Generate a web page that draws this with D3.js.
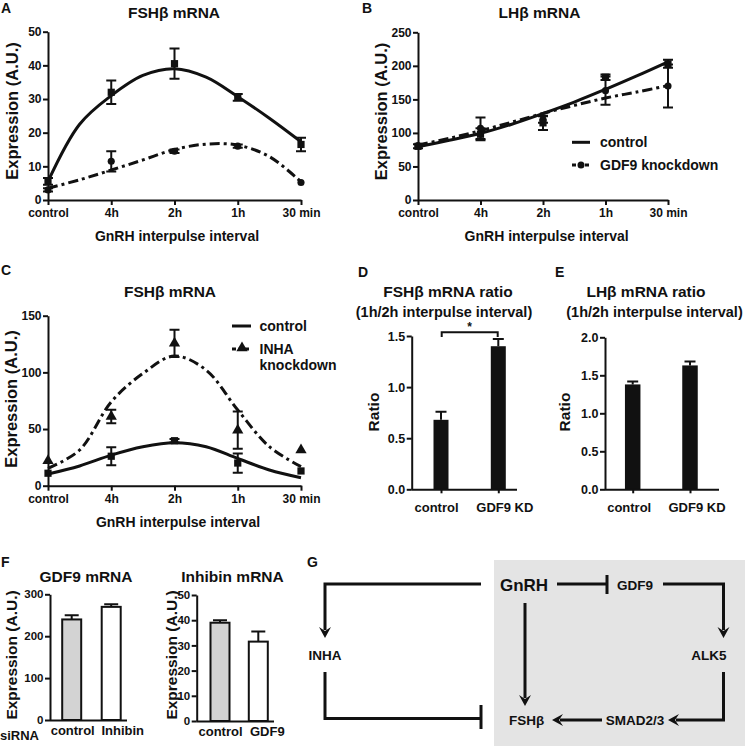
<!DOCTYPE html>
<html><head><meta charset="utf-8">
<script src="https://cdn.jsdelivr.net/npm/d3@7"></script>
<style>
body{margin:0;background:#fff}
svg{display:block}
text{font-family:"Liberation Sans",Arial,sans-serif;font-weight:bold;fill:#111}
</style></head><body>
<svg id="c" width="745" height="746"></svg>
<script>
// ---------- data ----------
const intervals = ["control","4h","2h","1h","30 min"];
const fitSteps = [0,0.5,1,1.5,2,2.5,3,3.5,4];
// Panel A  FSHb mRNA (control vs GDF9 knockdown)
const aCtrlMean = [5.5,32,40.5,30.5,16.5];
const aCtrlErr  = [1,3.5,4.5,1,2];
const aKdMean   = [3,11.5,14.5,16,5.2];
const aKdErr    = [0.5,3,0.5,0.5,0.4];
const aCtrlFit  = [5.5,22.5,31,37,39,36.5,30.7,24.3,17.3];
const aKdFit    = [3.5,6,8.9,11.9,15,16.6,16.3,12.9,5.4];
const aTicks = [0,10,20,30,40,50];
// Panel B  LHb mRNA
const bCtrlMean = [80,98,115,183,203];
const bCtrlErr  = [3,9,10.5,4,6];
const bKdMean   = [81,107,120,163,170];
const bKdErr    = [2,16,5,21,32];
const bCtrlFit  = [79.5,89,99.4,113,129,146,165,185,206];
const bKdFit    = [82,92,103.4,116,129,141,152,161,170.5];
const bTicks = [0,50,100,150,200,250];
// Panel C  FSHb mRNA (control vs INHA knockdown)
const cCtrlMean = [11,26,39.7,20,13];
const cCtrlErr  = [1,8,1.5,8.5,1];
const cInhaMean = [22,61,125.6,49,31.5];
const cInhaErr  = [1,6,12,16.5,1];
const cCtrlFit  = [10.3,17.4,27,34.4,38,34.4,24,13.8,7];
const cInhaFit  = [15.3,31.5,74,99,114.4,102,66.8,34.4,16.8];
const cTicks = [0,50,100,150];
// Panels D, E ratios
const kdGroups = ["control","GDF9 KD"];
const dRatio = [0.68,1.40];
const dErr   = [0.08,0.07];
const dTicks = [0,0.5,1.0,1.5];
const eRatio = [1.38,1.63];
const eErr   = [0.04,0.05];
const eTicks = [0,0.5,1.0,1.5,2.0];
// Panel F
const fGdf9Groups = ["control","Inhibin"];
const fGdf9    = [240,270];
const fGdf9Err = [10,6];
const fGdf9Ticks = [0,100,200,300];
const fInhGroups = ["control","GDF9"];
const fInh    = [39,31.5];
const fInhErr = [1,4];
const fInhTicks = [0,10,20,30,40,50];

// ---------- drawing ----------
const svg = d3.select("#c");
svg.append("rect").attr("width",745).attr("height",746).attr("fill","#fff");
const INK = "#111";

function txt(g,x,y,s,size,anchor){
  return g.append("text").attr("x",x).attr("y",y).attr("font-size",size)
    .attr("text-anchor",anchor||"middle").text(s);
}
function yTitle(g,x,cy,s,size){
  g.append("text").attr("transform",`translate(${x},${cy}) rotate(-90)`)
    .attr("text-anchor","middle").attr("font-size",size).text(s);
}
function styleAxis(a,fs){
  a.selectAll("path,line").attr("stroke",INK).attr("stroke-width",2);
  a.selectAll("text").attr("font-size",fs).attr("font-family",'"Liberation Sans",Arial,sans-serif')
    .attr("font-weight","bold").attr("fill",INK);
}

function lineChart(o){
  const g = svg.append("g");
  const x  = d3.scalePoint().domain(intervals).range([o.x0,o.x1]);
  const xl = d3.scaleLinear().domain([0,4]).range([o.x0,o.x1]);
  const y  = d3.scaleLinear().domain([0,o.ticks[o.ticks.length-1]]).range([o.y0,o.y1]);
  const ya = g.append("g").attr("transform",`translate(${o.x0},0)`)
    .call(d3.axisLeft(y).tickValues(o.ticks).tickSize(5).tickSizeOuter(0).tickPadding(1.5).tickFormat(d3.format("d")));
  styleAxis(ya,12);
  const xa = g.append("g").attr("transform",`translate(0,${o.y0})`)
    .call(d3.axisBottom(x).tickSize(5).tickSizeOuter(0).tickPadding(3.5));
  styleAxis(xa,12);
  o.series.forEach(s=>{
    g.append("path").datum(s.fit)
      .attr("d",d3.line().x((d,i)=>xl(fitSteps[i])).y(d=>y(d)).curve(d3.curveCatmullRom))
      .attr("fill","none").attr("stroke",INK).attr("stroke-width",3)
      .attr("stroke-dasharray",s.dash||null);
    s.mean.forEach((m,i)=>{
      const cx = x(intervals[i]);
      const e = s.err[i];
      if(y(m-e)-y(m+e) > 3){
        g.append("path").attr("d",`M${cx},${y(m-e)}V${y(m+e)}M${cx-5},${y(m-e)}H${cx+5}M${cx-5},${y(m+e)}H${cx+5}`)
          .attr("stroke",INK).attr("stroke-width",2).attr("fill","none");
      }
      g.append("path").attr("d",d3.symbol(s.shape,s.size)())
        .attr("transform",`translate(${cx},${y(m)})`).attr("fill",INK);
    });
  });
  txt(g,o.titleX,o.titleY,o.title,15.5);
  txt(g,o.xtX,o.xtY,"GnRH interpulse interval",14);
  yTitle(g,o.ytX,o.ytY,"Expression (A.U.)",16.5);
  return {g,x,y};
}

// Panel A
lineChart({x0:48,x1:301,y0:200,y1:31.7,ticks:aTicks,
  title:"FSHβ mRNA",titleX:174,titleY:18.3,xtX:177,xtY:241,ytX:17.5,ytY:111,
  series:[
    {fit:aCtrlFit,mean:aCtrlMean,err:aCtrlErr,shape:d3.symbolSquare,size:52},
    {fit:aKdFit,mean:aKdMean,err:aKdErr,shape:d3.symbolCircle,size:40,dash:"10,4,3,4"}
  ]});

// Panel B
const B = lineChart({x0:418,x1:668,y0:200,y1:32.3,ticks:bTicks,
  title:"LHβ mRNA",titleX:539.5,titleY:18.3,xtX:546.7,xtY:241,ytX:387,ytY:111.5,
  series:[
    {fit:bCtrlFit,mean:bCtrlMean,err:bCtrlErr,shape:d3.symbolSquare,size:52},
    {fit:bKdFit,mean:bKdMean,err:bKdErr,shape:d3.symbolCircle,size:40,dash:"10,4,3,4"}
  ]});
// legend B
B.g.append("line").attr("x1",572).attr("x2",590).attr("y1",142.3).attr("y2",142.3).attr("stroke",INK).attr("stroke-width",3);
txt(B.g,600,147,"control",14,"start");
B.g.append("line").attr("x1",572).attr("x2",590).attr("y1",165).attr("y2",165).attr("stroke",INK).attr("stroke-width",3).attr("stroke-dasharray","4,2.5");
B.g.append("circle").attr("cx",581).attr("cy",165).attr("r",3.5).attr("fill",INK);
txt(B.g,600,170,"GDF9 knockdown",14,"start");

// Panel C
const C = lineChart({x0:48,x1:301,y0:485.7,y1:315.7,ticks:cTicks,
  title:"FSHβ mRNA",titleX:170,titleY:296.7,xtX:178,xtY:526.7,ytX:17,ytY:399,
  series:[
    {fit:cCtrlFit,mean:cCtrlMean,err:cCtrlErr,shape:d3.symbolSquare,size:52},
    {fit:cInhaFit,mean:cInhaMean,err:cInhaErr,shape:d3.symbolTriangle,size:55,dash:"10,4,3,4"}
  ]});
C.g.append("line").attr("x1",232).attr("x2",251).attr("y1",326).attr("y2",326).attr("stroke",INK).attr("stroke-width",3);
txt(C.g,259.5,331,"control",14,"start");
C.g.append("line").attr("x1",232).attr("x2",251).attr("y1",349).attr("y2",349).attr("stroke",INK).attr("stroke-width",3).attr("stroke-dasharray","4,2.5");
C.g.append("path").attr("d",d3.symbol(d3.symbolTriangle,55)()).attr("transform","translate(242,348)").attr("fill",INK);
txt(C.g,259.5,354,"INHA",14,"start");
txt(C.g,259.5,369.5,"knockdown",14,"start");

// bar charts
function barChart(o){
  const g = svg.append("g");
  const y = d3.scaleLinear().domain([0,o.ticks[o.ticks.length-1]]).range([o.y0,o.y1]);
  const x = d3.scalePoint().domain(o.groups).range(o.centers);
  o.values.forEach((v,i)=>{
    const cx = x(o.groups[i]);
    const top = y(v+o.err[i]);
    g.append("path").attr("d",`M${cx},${y(v)}V${top}M${cx-o.cap/2},${top}H${cx+o.cap/2}`)
      .attr("stroke",INK).attr("stroke-width",2).attr("fill","none");
    g.append("rect").attr("x",cx-o.bw/2).attr("y",y(v)).attr("width",o.bw).attr("height",o.y0-y(v))
      .attr("fill",o.fills[i]).attr("stroke",INK).attr("stroke-width",o.outline||0);
  });
  const ya = g.append("g").attr("transform",`translate(${o.x0},0)`)
    .call(d3.axisLeft(y).tickValues(o.ticks).tickSize(5).tickSizeOuter(0).tickPadding(1.5).tickFormat(d3.format(o.fmt)));
  styleAxis(ya,o.tfs);
  const xa = g.append("g").attr("transform",`translate(0,${o.y0})`)
    .call(d3.axisBottom(x).tickSize(o.xtick).tickSizeOuter(0).tickPadding(o.xpad));
  xa.select(".domain").attr("d",`M${o.x0},0.5H${o.xEnd}`);
  styleAxis(xa,o.lfs);
  xa.selectAll(".tick text").attr("dx",(d,i)=>o.labelShift[i]);
  return {g,x,y};
}

// Panel D
const D = barChart({x0:411.7,xEnd:517,y0:489.3,y1:336,ticks:dTicks,fmt:".1f",groups:kdGroups,
  centers:[441,498.3],values:dRatio,err:dErr,bw:15,cap:11,fills:[INK,INK],tfs:12.5,lfs:13,
  xtick:4,xpad:9,labelShift:[-5,6]});
txt(D.g,448,296.7,"FSHβ mRNA ratio",15.5);
txt(D.g,444,316.7,"(1h/2h interpulse interval)",14.5);
yTitle(D.g,378.5,412,"Ratio",15.5);
D.g.append("path").attr("d","M441.7,337V332.3H497.7V337").attr("fill","none").attr("stroke",INK).attr("stroke-width",2);
txt(D.g,469.5,331,"*",12);

// Panel E
const E = barChart({x0:605,xEnd:719,y0:489.3,y1:337.3,ticks:eTicks,fmt:".1f",groups:kdGroups,
  centers:[632.7,690],values:eRatio,err:eErr,bw:15.5,cap:11,fills:[INK,INK],tfs:12.5,lfs:13,
  xtick:4,xpad:9,labelShift:[-4,6.5]});
txt(E.g,646,296.7,"LHβ mRNA ratio",15.5);
txt(E.g,654.5,316.7,"(1h/2h interpulse interval)",14.5);
yTitle(E.g,570,412,"Ratio",15.5);

// Panel F left
const F1 = barChart({x0:50,xEnd:127,y0:720,y1:594.3,ticks:fGdf9Ticks,fmt:"d",groups:fGdf9Groups,
  centers:[71.7,111.2],values:fGdf9,err:fGdf9Err,bw:19,cap:14,fills:["#d3d3d3","#fff"],outline:2,tfs:11.5,lfs:13,
  xtick:0,xpad:6,labelShift:[0.5,11]});
txt(F1.g,86,581.7,"GDF9 mRNA",15.5);
yTitle(F1.g,16.5,655,"Expression (A.U.)",15.5);
txt(F1.g,0,740,"siRNA",13,"start");

// Panel F right
const F2 = barChart({x0:196.7,xEnd:274,y0:721,y1:595,ticks:fInhTicks,fmt:"d",groups:fInhGroups,
  centers:[220,258.3],values:fInh,err:fInhErr,bw:19,cap:14,fills:["#d3d3d3","#fff"],outline:2,tfs:11.5,lfs:13,
  xtick:0,xpad:6,labelShift:[0,8.5]});
txt(F2.g,232.5,581.7,"Inhibin mRNA",15.5);
yTitle(F2.g,176.5,655,"Expression (A.U.)",15.5);

// Panel G diagram
const G = svg.append("g");
G.append("rect").attr("x",494).attr("y",560).attr("width",251).attr("height",186).attr("fill","#e4e4e4");
const lineSty = p => G.append("path").attr("d",p).attr("fill","none").attr("stroke",INK).attr("stroke-width",3);
function arrow(x,y,dir){
  const r = {down:0,left:90,up:180,right:-90}[dir];
  G.append("path").attr("d","M0,0L-6,-11L0,-7L6,-11Z").attr("transform",`translate(${x},${y}) rotate(${r})`).attr("fill",INK);
}
txt(G,524,591,"GnRH",17);
txt(G,635,590,"GDF9",13.5);
txt(G,325,660,"INHA",13.5);
txt(G,709,660,"ALK5",13.5);
txt(G,526.7,725,"FSHβ",13.5);
txt(G,635,725,"SMAD2/3",13.5);
lineSty("M481,584H325V630"); arrow(325,638,"down");
lineSty("M325,672V718.5H481"); lineSty("M481,705V729");
lineSty("M557,584H607"); lineSty("M607,575V594");
lineSty("M663,584H723.5V630"); arrow(723.5,638,"down");
lineSty("M723.5,672V720H676"); arrow(668,720,"left");
lineSty("M602,720H560"); arrow(552,720,"left");
lineSty("M525,603V698"); arrow(525,706,"down");

// panel letters
[["A",1,13],["B",362,13],["C",1,275],["D",358,277],["E",555,277],["F",1,567],["G",307,567]]
  .forEach(([s,x,y])=>txt(svg,x,y,s,14,"start"));
</script></body></html>
